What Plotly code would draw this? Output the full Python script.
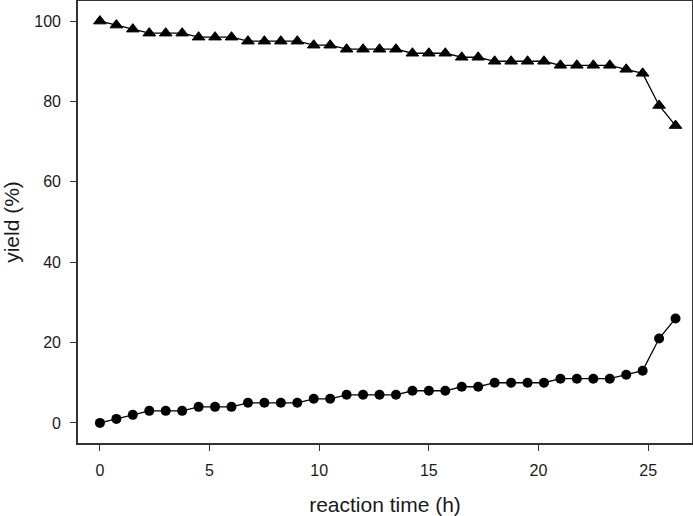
import plotly.graph_objects as go

time_h = [0, 0.75, 1.5, 2.25, 3, 3.75, 4.5, 5.25, 6, 6.75, 7.5, 8.25, 9, 9.75,
          10.5, 11.25, 12, 12.75, 13.5, 14.25, 15, 15.75, 16.5, 17.25, 18, 18.75,
          19.5, 20.25, 21, 21.75, 22.5, 23.25, 24, 24.75, 25.5, 26.25]
yield_circle = [0, 1, 2, 3, 3, 3, 4, 4, 4, 5, 5, 5, 5, 6, 6, 7, 7, 7, 7, 8, 8, 8,
                9, 9, 10, 10, 10, 10, 11, 11, 11, 11, 12, 13, 21, 26]
yield_triangle = [100, 99, 98, 97, 97, 97, 96, 96, 96, 95, 95, 95, 95, 94, 94, 93,
                  93, 93, 93, 92, 92, 92, 91, 91, 90, 90, 90, 90, 89, 89, 89, 89,
                  88, 87, 79, 74]
x_ticks = [0, 5, 10, 15, 20, 25]
y_ticks = [0, 20, 40, 60, 80, 100]

fig = go.Figure()
fig.add_trace(go.Scatter(x=time_h, y=yield_triangle, mode="lines+markers",
                         line=dict(color="black", width=1.3),
                         marker=dict(symbol="triangle-up", size=11, color="black",
                                     line=dict(color="black", width=1)),
                         showlegend=False, cliponaxis=False))
fig.add_trace(go.Scatter(x=time_h, y=yield_circle, mode="lines+markers",
                         line=dict(color="black", width=1.3),
                         marker=dict(symbol="circle", size=10, color="black"),
                         showlegend=False, cliponaxis=False))

font = "Liberation Sans, Arial, sans-serif"
fig.update_layout(
    width=693, height=516,
    margin=dict(l=78, r=1, t=1, b=73),
    paper_bgcolor="white", plot_bgcolor="white",
    font=dict(family=font, color="#1a1a1a", size=16),
)
fig.update_xaxes(range=[-1, 27], tickvals=x_ticks, ticks="outside", ticklen=6,
                 tickwidth=1.3, tickcolor="#333", showline=True, linecolor="#333",
                 linewidth=1.6, mirror=True, showgrid=False, zeroline=False,
                 ticklabelstandoff=6, automargin=False,
                 title=dict(text="reaction time (h)", font=dict(size=21), standoff=22))
fig.update_yaxes(range=[-5, 105], tickvals=y_ticks, ticks="outside", ticklen=6,
                 tickwidth=1.3, tickcolor="#333", showline=True, linecolor="#333",
                 linewidth=1.6, mirror=True, showgrid=False, zeroline=False,
                 ticklabelstandoff=6, automargin=False,
                 title=dict(text="yield (%)", font=dict(size=21), standoff=18))

fig.write_html("out.html", config={"displayModeBar": False},
               post_script="document.body.style.margin='0';document.body.style.overflow='hidden';")
